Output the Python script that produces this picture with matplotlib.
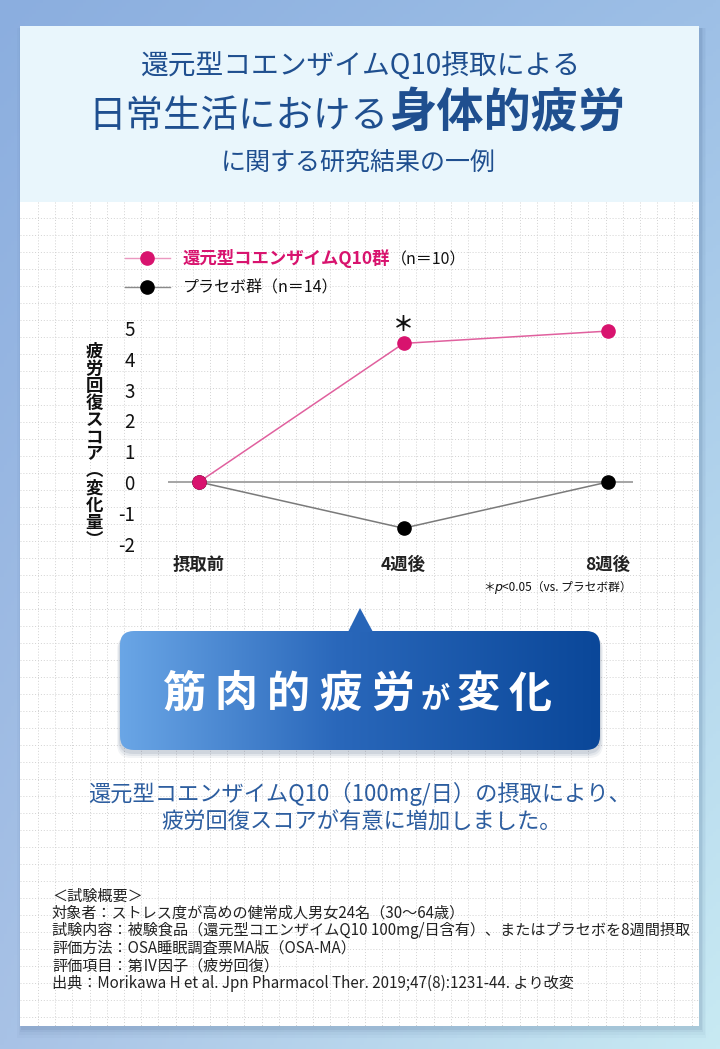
import numpy as np
import matplotlib
matplotlib.use('Agg')
import matplotlib.pyplot as plt
from matplotlib.patches import Rectangle, FancyBboxPatch, Polygon
from matplotlib.colors import LinearSegmentedColormap

plt.rcParams['font.family'] = ['Noto Sans CJK JP', 'DejaVu Sans']

# --- data ---
weeks = ['摂取前', '4週後', '8週後']
q10_score = [0, 4.5, 4.9]
placebo_score = [0, -1.5, 0.0]
yticks = [-2, -1, 0, 1, 2, 3, 4, 5]
q10_label = '還元型コエンザイムQ10群'
q10_n = '（n＝10）'
placebo_label = 'プラセボ群（n＝14）'
ylabel_chars = ['疲', '労', '回', '復', 'ス', 'コ', 'ア', '︵', '変', '化', '量', '︶']

title1 = '還元型コエンザイムQ10摂取による'
title2a = '日常生活における'
title2b = '身体的疲労'
title3 = 'に関する研究結果の一例'
callout = [('筋', 30), ('肉', 30), ('的', 30), ('疲', 30), ('労', 30), ('が', 20), ('変', 30), ('化', 30)]
body = ['還元型コエンザイムQ10（100mg/日）の摂取により、',
        '疲労回復スコアが有意に増加しました。']
notes = ['＜試験概要＞',
         '対象者：ストレス度が高めの健常成人男女24名（30～64歳）',
         '試験内容：被験食品（還元型コエンザイムQ10 100mg/日含有）、またはプラセボを8週間摂取',
         '評価方法：OSA睡眠調査票MA版（OSA-MA）',
         '評価項目：第Ⅳ因子（疲労回復）',
         '出典：Morikawa H et al. Jpn Pharmacol Ther. 2019;47(8):1231-44. より改変']

PINK = '#d8136e'
PINK_LINE = '#e0609e'
NAVY = '#1f4f8f'

fig = plt.figure(figsize=(7.2, 10.49), dpi=100)
bg = fig.add_axes([0, 0, 1, 1])
bg.set_xlim(0, 720)
bg.set_ylim(1049, 0)
bg.axis('off')
renderer = fig.canvas.get_renderer()

# background gradient
tl = np.array([0x8b, 0xae, 0xdf]) / 255
tr = np.array([0x9d, 0xbf, 0xe6]) / 255
bl = np.array([0xa8, 0xc2, 0xe6]) / 255
br = np.array([0xc8, 0xea, 0xf3]) / 255
u = np.linspace(0, 1, 200)[None, :, None]
v = np.linspace(0, 1, 300)[:, None, None]
img = (1-u)*(1-v)*tl + u*(1-v)*tr + (1-u)*v*bl + u*v*br
bg.imshow(img, extent=[0, 720, 1049, 0], aspect='auto', zorder=0)

# card + shadow
for d, a in [(10, 0.03), (7, 0.04), (4, 0.06), (2, 0.08)]:
    bg.add_patch(Rectangle((20 - d/2 + 2, 26 + 2), 679 + d, 1000 + d, fc='#33507a', ec='none', alpha=a, zorder=1))
bg.add_patch(Rectangle((20, 26), 679, 1000, fc='white', ec='none', zorder=2))
bg.add_patch(Rectangle((20, 26), 679, 176, fc='#e9f6fc', ec='none', zorder=3))

# dotted grid
for gx in np.arange(38, 699, 17.2):
    bg.plot([gx, gx], [202, 1026], color='#d2d2d2', lw=0.7, ls=(0, (1, 2)), zorder=2.5)
for gy in np.arange(1017, 202, -17):
    bg.plot([20, 699], [gy, gy], color='#d2d2d2', lw=0.7, ls=(0, (1, 2)), zorder=2.5)


def row(x, y, parts, ha='left'):
    texts = [bg.text(x, y, s, ha='left', va='baseline', zorder=8, **kw) for s, kw in parts]
    widths = [t.get_window_extent(renderer).width for t in texts]
    total = sum(widths)
    start = x - total / 2 if ha == 'center' else (x - total if ha == 'right' else x)
    for t, w in zip(texts, widths):
        t.set_x(start)
        start += w
    return texts


# titles
bg.text(361, 66, title1, ha='center', va='center', fontsize=20, color=NAVY, zorder=8)
row(357, 127, [(title2a, dict(fontsize=27, color=NAVY)),
               (title2b, dict(fontsize=34, color=NAVY, weight='bold'))], ha='center')
bg.text(358, 163, title3, ha='center', va='center', fontsize=18, color=NAVY, zorder=8)

# legend
bg.plot([125, 170], [258, 258], color='#eb98c0', lw=1, zorder=7)
bg.plot([147], [258], 'o', ms=9.5, color=PINK, zorder=8)
bg.plot([125, 170], [287, 287], color='#8a8a8a', lw=1, zorder=7)
bg.plot([147], [287], 'o', ms=9.5, color='black', zorder=8)
row(183, 264, [(q10_label, dict(fontsize=12.5, color=PINK, weight='bold')),
               (q10_n, dict(fontsize=11.5, color='#111111'))])
row(183, 292, [(placebo_label, dict(fontsize=11.5, color='#111111'))])

# y label (vertical)
for i, ch in enumerate(ylabel_chars):
    bg.text(94, 352 + i * 17.1, ch, ha='center', va='center', fontsize=12.5,
            weight='bold', color='#111111', zorder=8)

# chart
ax = fig.add_axes([168/720, 1 - 550/1049, 465/720, 250/1049])
ax.patch.set_alpha(0)
for s in ax.spines.values():
    s.set_visible(False)
x = np.arange(len(weeks))
ax.set_xlim(-31/204.5, 434/204.5)
ax.set_ylim((482 - 550)/30.8, (482 - 300)/30.8)
ax.axhline(0, color='#a5a5a5', lw=1.4, zorder=1)
ax.plot(x, placebo_score, color='#7a7a7a', lw=1.1, zorder=2)
ax.plot(x, q10_score, color=PINK_LINE, lw=1.1, zorder=3)
ax.plot(x, placebo_score, 'o', ms=9.5, color='black', zorder=4, clip_on=False)
ax.plot(x, q10_score, 'o', ms=9.5, color=PINK, zorder=5, clip_on=False)
ax.annotate('＊', xy=(1, q10_score[1]), xytext=(0, 14), textcoords='offset points',
            ha='center', va='center', fontsize=15, weight='bold', color='#111111')
ax.set_yticks(yticks)
ax.set_yticklabels([str(t) for t in yticks], fontsize=13.5, color='#111111')
ax.set_xticks(x)
ax.set_xticklabels(weeks, fontsize=12.5, weight='bold', color='#222222')
ax.tick_params(axis='y', length=0, pad=24)
ax.tick_params(axis='x', length=0, pad=4)

# footnote
row(632, 591, [('＊', dict(fontsize=8.5, color='#111111')),
               ('p', dict(fontsize=9, color='#111111', family='DejaVu Sans', style='italic')),
               ('<0.05（vs. プラセボ群）', dict(fontsize=8.5, color='#111111'))], ha='right')

# callout
cmap = LinearSegmentedColormap.from_list('c', [(0, '#6aa6e6'), (0.45, '#2a68bb'), (1, '#0a4799')])
for d, a in [(6, 0.06), (4, 0.08), (2, 0.1)]:
    bg.add_patch(FancyBboxPatch((120 - d/2, 633 + d/2), 480 + d, 119 + d/2,
                                boxstyle='round,pad=0,rounding_size=14',
                                fc='#30456a', ec='none', alpha=a, zorder=5.5))
box = FancyBboxPatch((120, 631), 480, 119, boxstyle='round,pad=0,rounding_size=14',
                     fc='none', ec='none', zorder=6)
bg.add_patch(box)
grad = np.linspace(0, 1, 256)[None, :]
im = bg.imshow(grad, extent=[120, 600, 750, 631], cmap=cmap, aspect='auto', zorder=6)
im.set_clip_path(box)
bg.add_patch(Polygon([(348, 632), (360, 608), (373, 632)], fc=cmap((360 - 120) / 480), ec='none', zorder=6))

cx = 158
for ch, fs in callout:
    adv = fs * 100 / 72 * (1.25 if fs > 25 else 1.2)
    bg.text(cx + adv / 2, 707, ch, ha='center', va='baseline', fontsize=fs + 1,
            weight='bold', color='white', zorder=8)
    cx += adv

# body text
BODY = '#2c5d9f'
bg.text(360, 794, body[0], ha='center', va='center', fontsize=16, color=BODY, zorder=8)
bg.text(362, 822, body[1], ha='center', va='center', fontsize=16, color=BODY, zorder=8)

# notes
for i, line in enumerate(notes):
    bg.text(52, 896 + i * 17.4, line, ha='left', va='center', fontsize=10.9,
            color='#222222', zorder=8)

fig.savefig('out.png', dpi=100)
